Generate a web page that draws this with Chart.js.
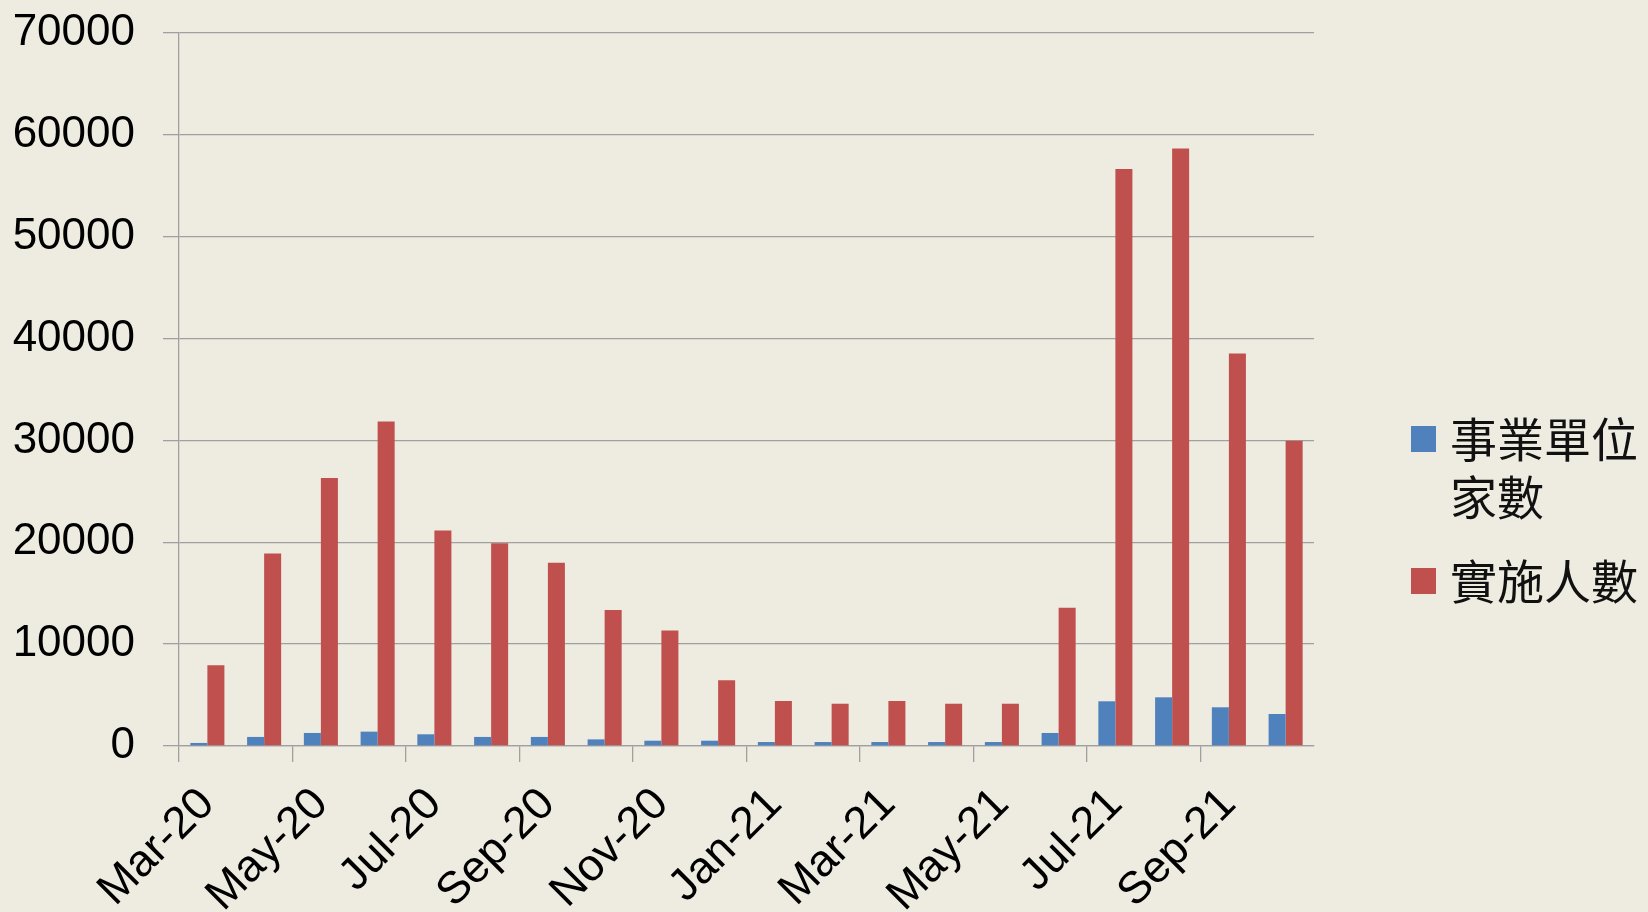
<!DOCTYPE html>
<html>
<head>
<meta charset="utf-8">
<script src="https://cdn.jsdelivr.net/npm/chart.js@4.4.0/dist/chart.umd.min.js"></script>
<style>
html,body{margin:0;padding:0;background:#EEECE1;}
#contenedor{width:1648px;height:912px;}
</style>
</head>
<body>
<div id="contenedor"><canvas id="barChartEmpleo"></canvas></div>
<script>

// Meses (eje X)
var meses = ['Mar-20','Apr-20','May-20','Jun-20','Jul-20','Aug-20','Sep-20','Oct-20','Nov-20','Dec-20',
             'Jan-21','Feb-21','Mar-21','Apr-21','May-21','Jun-21','Jul-21','Aug-21','Sep-21','Oct-21'];

// 事業單位家數
var empresas = [300, 890, 1280, 1410, 1150, 890, 890, 650, 520, 520,
                390, 390, 390, 390, 390, 1280, 4390, 4780, 3800, 3140];

// 實施人數
var personas = [7920, 18900, 26300, 31850, 21150, 19900, 18000, 13350, 11350, 6450,
                4420, 4150, 4420, 4150, 4150, 13580, 56650, 58660, 38540, 29960];

// Nombres de las series y lineas de la leyenda
var nombresSeries = ['事業單位家數', '實施人數'];
var lineasLeyenda = [['事業單位', '家數'], ['實施人數']];

// Eje Y
var ticksY = [0, 10000, 20000, 30000, 40000, 50000, 60000, 70000];

var colorAzul = '#4F81BD';
var colorRojo = '#C0504D';
var colorGrid = '#A0A0A0';
var fuente = "'Liberation Sans', sans-serif";

// Leyenda dibujada a mano (a la derecha, un poco mas abajo que el centro)
var leyendaLateral = {
  id: 'leyendaLateral',
  afterDraw: function(chart){
    var ctx = chart.ctx;
    var colores = [colorAzul, colorRojo];
    var posY = [439, 581];
    ctx.save();
    ctx.font = "47px 'Noto Sans CJK TC'";
    ctx.textBaseline = 'middle';
    for (var i = 0; i < lineasLeyenda.length; i++) {
      ctx.fillStyle = colores[i];
      ctx.fillRect(1411, posY[i] - 13, 25, 26);
      ctx.fillStyle = '#111';
      for (var j = 0; j < lineasLeyenda[i].length; j++) {
        ctx.fillText(lineasLeyenda[i][j], 1450, posY[i] + j * 58);
      }
    }
    ctx.restore();
  }
};

function GraficoBarras(){
  var canvas = document.getElementById('barChartEmpleo');
  var ctx = canvas.getContext('2d');

  var config = {
    type: 'bar',
    data: {
      labels: meses,
      datasets: [
        { label: nombresSeries[0], data: empresas, backgroundColor: colorAzul },
        { label: nombresSeries[1], data: personas, backgroundColor: colorRojo }
      ]
    },
    options: {
      responsive: true,
      maintainAspectRatio: false,
      animation: false,
      categoryPercentage: 0.6,
      barPercentage: 1.0,
      layout: { padding: { top: 33, right: 334, left: 0, bottom: 0 } },
      plugins: {
        legend: { display: false },
        tooltip: { enabled: false }
      },
      scales: {
        x: {
          offset: true,
          grid: {
            offset: true,
            drawOnChartArea: false,
            drawTicks: true,
            tickLength: 16,
            lineWidth: 1.3,
            color: function(c){ return c.index % 2 === 0 ? colorGrid : 'rgba(0,0,0,0)'; }
          },
          border: { display: true, color: colorGrid, width: 1.3 },
          ticks: {
            autoSkip: false,
            minRotation: 45,
            maxRotation: 45,
            padding: 16,
            color: '#000',
            font: { family: fuente, size: 45 },
            callback: function(val, i){ return i % 2 === 0 ? meses[i] : ''; }
          },
          afterFit: function(scale){ scale.height = 166; }
        },
        y: {
          min: 0,
          max: 70000,
          afterBuildTicks: function(scale){
            scale.ticks = ticksY.map(function(v){ return { value: v }; });
          },
          grid: { color: colorGrid, lineWidth: 1.3, tickLength: 16 },
          border: { display: true, color: colorGrid, width: 1.3 },
          ticks: {
            padding: 28,
            color: '#000',
            // lineHeight chico para que el padding de arriba no empuje el area
            font: { family: fuente, size: 44, lineHeight: 0.2 },
            callback: function(v){ return String(v); }
          },
          afterFit: function(scale){ scale.width = 179; }
        }
      }
    },
    plugins: [leyendaLateral]
  };

  var grafico = new Chart(ctx, config);
}

GraficoBarras();
</script>
</body>
</html>
